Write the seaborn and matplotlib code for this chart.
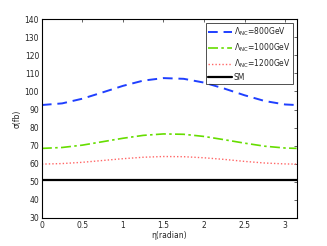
import numpy as np
import pandas as pd
import matplotlib
matplotlib.use('Agg')
import matplotlib.pyplot as plt
import seaborn as sns

# values
eta = [0.0, 0.25, 0.5, 0.75, 1.0, 1.25, 1.5, 1.75, 2.0, 2.25, 2.5, 2.75, 3.0, 3.1416]
sigma_800 = [92.5, 93.4, 96.0, 99.5, 103.1, 106.0, 107.4, 107.0, 104.9, 101.6, 97.9, 94.7, 92.8, 92.5]
sigma_1000 = [68.5, 69.0, 70.3, 72.2, 74.1, 75.7, 76.5, 76.3, 75.1, 73.3, 71.4, 69.7, 68.7, 68.5]
sigma_1200 = [59.8, 60.1, 60.8, 61.8, 62.8, 63.6, 64.0, 63.9, 63.3, 62.4, 61.3, 60.4, 59.9, 59.8]
sigma_sm = [51.2] * len(eta)

labels = [r'$\Lambda_{NC}$=800GeV', r'$\Lambda_{NC}$=1000GeV', r'$\Lambda_{NC}$=1200GeV', 'SM']
colors = ['#1f3fff', '#66dd00', '#ff6666', 'black']
styles = [(0, (5, 3)), (0, (6, 2, 1.5, 2)), (0, (1, 1.5)), '-']
widths = [1.4, 1.2, 1.0, 1.6]

sns.set_style('white')
plt.rcParams['font.family'] = ['DejaVu Sans']
plt.rcParams['mathtext.default'] = 'regular'

df = pd.DataFrame({'eta': eta, labels[0]: sigma_800, labels[1]: sigma_1000,
                   labels[2]: sigma_1200, labels[3]: sigma_sm})

fig = plt.figure(figsize=(3.27, 2.46), dpi=100)
ax = fig.add_axes([0.128, 0.114, 0.779, 0.808])

for lab, c, ls, lw in zip(labels, colors, styles, widths):
    sns.lineplot(data=df, x='eta', y=lab, ax=ax, color=c, linestyle=ls,
                 linewidth=lw, label=lab)

ax.set_xlim(0, np.pi)
ax.set_ylim(30, 140)
ax.set_xticks([0, 0.5, 1, 1.5, 2, 2.5, 3])
ax.set_xticklabels(['0', '0.5', '1', '1.5', '2', '2.5', '3'])
ax.set_yticks(range(30, 141, 10))
ax.set_xlabel('\u03b7(radian)', fontsize=5.5, labelpad=1)
ax.set_ylabel('\u03c3(fb)', fontsize=5.5, labelpad=2)
ax.tick_params(direction='in', length=2, width=0.5, labelsize=5.5,
               top=True, right=True, pad=2)
for s in ax.spines.values():
    s.set_linewidth(0.8)
    s.set_color('black')

leg = ax.legend(loc='upper right', fontsize=5.5, handlelength=3.1,
                frameon=True, fancybox=False, edgecolor='black',
                borderpad=0.3, labelspacing=0.45, handletextpad=0.25,
                borderaxespad=0.5)
leg.get_frame().set_linewidth(0.6)

fig.savefig('out.png', dpi=100)
